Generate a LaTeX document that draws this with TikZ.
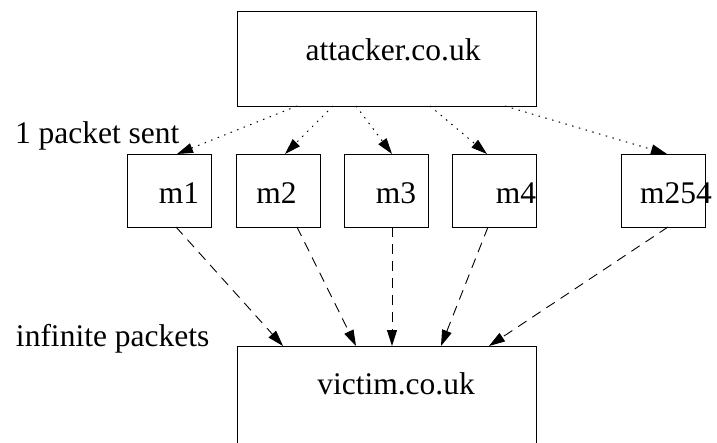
\documentclass[tikz,border=0pt]{standalone}
\usepackage{fontspec}
\setmainfont{Liberation Serif}
\usetikzlibrary{arrows.meta}

\begin{document}
\begin{tikzpicture}[x=1pt, y=-1pt,
    every node/.style={inner sep=0pt, outer sep=0pt},
    hostbox/.style={draw, line width=0.9pt, anchor=north west},
    bigbox/.style={hostbox, minimum width=299pt},
    smallbox/.style={hostbox, minimum width=84.5pt, minimum height=73pt},
    txt/.style={font=\fontsize{31.5}{36}\selectfont, anchor=base},
    lbl/.style={font=\fontsize{31.5}{36}\selectfont, anchor=base west},
    probe/.style={line width=1pt, dash pattern=on 1.5pt off 5.5pt,
                  -{Triangle[length=16pt, width=10pt]}},
    flood/.style={line width=0.9pt, dash pattern=on 10pt off 7pt,
                  -{Triangle[length=16pt, width=10pt]}}]

  \useasboundingbox (0,0) rectangle (717,442);

  % hosts
  \node[bigbox, minimum height=95pt] (att) at (237,11) {};
  \node[txt] (attt) at (393,60) {attacker.co.uk};

  \node[smallbox] (m1) at (127,154) {};
  \node[smallbox] (m2) at (236,154) {};
  \node[smallbox] (m3) at (344,154) {};
  \node[smallbox] (m4) at (452,154) {};
  \node[smallbox] (m254) at (621,154) {};
  \node[txt] (m1t) at (179,203) {m1};
  \node[txt] (m2t) at (276.5,203) {m2};
  \node[txt] (m3t) at (396,203) {m3};
  \node[txt] (m4t) at (516,203) {m4};
  \node[txt] (m254t) at (676,203) {m254};

  \node[bigbox, minimum height=110pt] (vic) at (237,346) {};
  \node[txt] (vict) at (396,394) {victim.co.uk};

  % side labels
  \node[lbl] (sent) at (15,143) {1 packet sent};
  \node[lbl] (inf) at (16,346) {infinite packets};

  % one probe packet to each amplifier
  \draw[probe] ([xshift=60pt]att.south west) -- ([xshift=50pt]m1.north west);
  \draw[probe] ([xshift=96pt]att.south west) -- ([xshift=49pt]m2.north west);
  \draw[probe] ([xshift=119pt]att.south west) -- ([xshift=48pt]m3.north west);
  \draw[probe] ([xshift=193pt]att.south west) -- ([xshift=35pt]m4.north west);
  \draw[probe] ([xshift=268pt]att.south west) -- ([xshift=46pt]m254.north west);

  % replies flooding the victim
  \draw[flood] ([xshift=49pt]m1.south west) -- ([xshift=46pt]vic.north west);
  \draw[flood] ([xshift=61pt]m2.south west) -- ([xshift=119pt]vic.north west);
  \draw[flood] ([xshift=48pt]m3.south west) -- ([xshift=155pt]vic.north west);
  \draw[flood] ([xshift=36pt]m4.south west) -- ([xshift=204pt]vic.north west);
  \draw[flood] ([xshift=47pt]m254.south west) -- ([xshift=252pt]vic.north west);
\end{tikzpicture}
\end{document}
